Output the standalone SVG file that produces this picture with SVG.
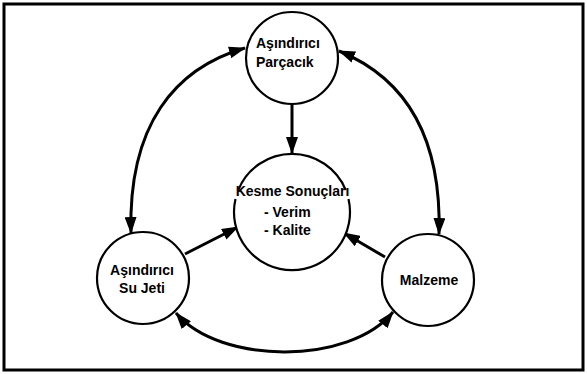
<svg xmlns="http://www.w3.org/2000/svg" width="587" height="374" viewBox="0 0 587 374">
<style>
.node{fill:#fff;stroke:#000;stroke-width:2.2}
.arc{fill:none;stroke:#000;stroke-width:2.2}
.lbl{font-family:"Liberation Sans",Arial,sans-serif;font-weight:bold;font-size:14px;fill:#000}
.c{text-anchor:middle}
.edge{fill:none;stroke:#000;stroke-width:3}
</style>
<defs>
<marker id="ah" markerUnits="userSpaceOnUse" markerWidth="17" markerHeight="12" viewBox="0 0 17 12" refX="16" refY="6" orient="auto-start-reverse">
<path d="M0,0 L17,6 L0,12 z" fill="#000"/>
</marker>
</defs>
<rect x="4" y="4" width="579" height="366" fill="#fff" stroke="#000" stroke-width="3"/>
<g id="connectors">
<path class="edge" d="M292,104 L292,153" marker-end="url(#ah)"/>
<path class="edge" d="M185,254 L238,227" marker-end="url(#ah)"/>
<path class="edge" d="M385,257 L344,233" marker-end="url(#ah)"/>
<path class="edge" d="M245,48 C175,68 128,125 131,233" marker-start="url(#ah)" marker-end="url(#ah)"/>
<path class="edge" d="M339,51 C400,76 442,130 439,234" marker-start="url(#ah)" marker-end="url(#ah)"/>
<path class="edge" d="M176,313 C220,365 350,365 393,312" marker-start="url(#ah)" marker-end="url(#ah)"/>
</g>
<g id="parcacik">
<circle class="node" cx="292" cy="58" r="46"/>
<text class="lbl" x="256" y="48">Aşındırıcı</text>
<text class="lbl" x="256" y="67">Parçacık</text>
</g>
<g id="kesme">
<circle cx="292" cy="212" r="58" fill="#fff" stroke="none"/>
<path class="arc" d="M238.3,190 A58,58 0 0 1 345.7,190"/>
<path class="arc" d="M235.5,199 A58,58 0 1 0 348.5,199"/>
<text class="lbl c" x="292.5" y="196">Kesme Sonuçları</text>
<text class="lbl" x="264" y="217">- Verim</text>
<text class="lbl" x="264" y="235">- Kalite</text>
</g>
<g id="sujeti">
<circle class="node" cx="143" cy="278" r="46"/>
<text class="lbl c" x="142" y="275">Aşındırıcı</text>
<text class="lbl c" x="142" y="293">Su Jeti</text>
</g>
<g id="malzeme">
<circle class="node" cx="428" cy="280" r="46"/>
<text class="lbl c" x="429" y="285">Malzeme</text>
</g>
</svg>
